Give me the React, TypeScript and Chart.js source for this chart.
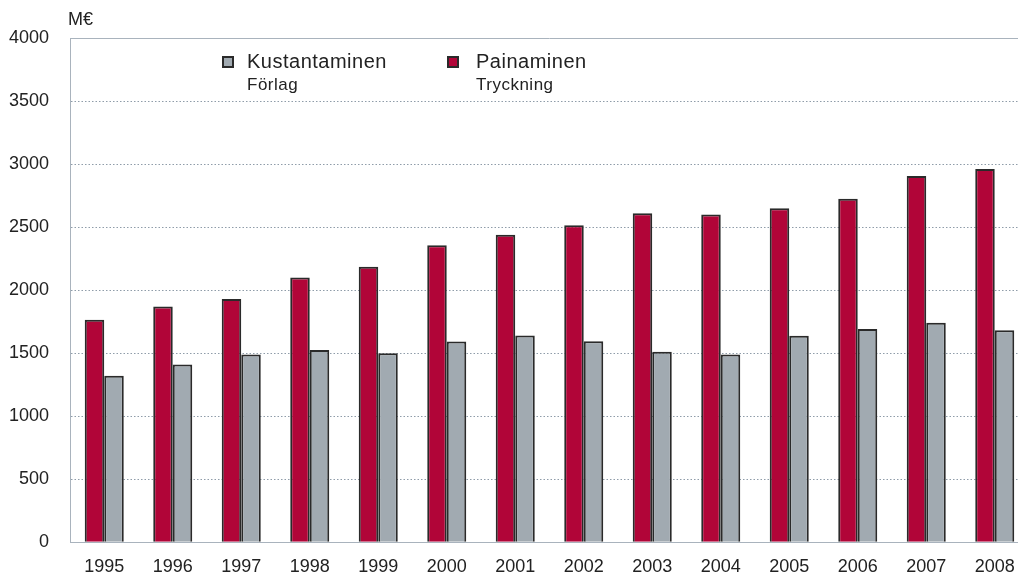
import React, { useEffect, useRef } from "react";
import { Chart, registerables } from "chart.js";

Chart.register(...registerables);

const years = ["1995", "1996", "1997", "1998", "1999", "2000", "2001", "2002", "2003", "2004", "2005", "2006", "2007", "2008"];
const painaminen = [1765, 1870, 1930, 2100, 2185, 2355, 2440, 2515, 2610, 2600, 2650, 2725, 2905, 2960];
const kustantaminen = [1320, 1410, 1490, 1525, 1500, 1593, 1640, 1595, 1510, 1490, 1637, 1692, 1740, 1682];
const yMin = 0;
const yMax = 4000;
const yStep = 500;
const unitLabel = "M€";
const legendMain = ["Kustantaminen", "Painaminen"];
const legendSub = ["Förlag", "Tryckning"];

const RED = "#b10538";
const GRAY = "#a1aab1";
const EDGE = "#2a2a2a";
const AXIS = "#a9b3bd";
const GRID = "#8f9ca9";
const TEXT = "#222222";
const FONT = "'Liberation Sans', Arial, sans-serif";

const overlay = {
  id: "overlay",
  beforeDatasetsDraw(chart: any) {
    const { ctx, chartArea } = chart;
    ctx.save();
    ctx.strokeStyle = AXIS;
    ctx.lineWidth = 1;
    ctx.beginPath();
    ctx.moveTo(chartArea.left, Math.round(chartArea.top) + 0.5);
    ctx.lineTo(chartArea.right, Math.round(chartArea.top) + 0.5);
    ctx.stroke();
    ctx.restore();
  },
  afterDraw(chart: any) {
    const { ctx } = chart;
    ctx.save();
    ctx.fillStyle = TEXT;
    ctx.textBaseline = "alphabetic";
    ctx.textAlign = "left";
    ctx.font = `18px ${FONT}`;
    ctx.fillText(unitLabel, 68, 25);

    const boxX = [222, 447];
    const textX = [247, 476];
    const colors = [GRAY, RED];
    for (let i = 0; i < 2; i++) {
      ctx.fillStyle = colors[i];
      ctx.fillRect(boxX[i], 56, 12, 12);
      ctx.strokeStyle = EDGE;
      ctx.lineWidth = 2;
      ctx.strokeRect(boxX[i] + 1, 57, 10, 10);
      ctx.fillStyle = TEXT;
      try {
        (ctx as any).letterSpacing = "0.5px";
      } catch (e) {}
      ctx.font = `20px ${FONT}`;
      ctx.fillText(legendMain[i], textX[i], 68);
      ctx.font = `17px ${FONT}`;
      ctx.fillText(legendSub[i], textX[i], 90);
      try {
        (ctx as any).letterSpacing = "0px";
      } catch (e) {}
    }
    ctx.restore();
  },
};

export default function App() {
  const ref = useRef<HTMLCanvasElement | null>(null);

  useEffect(() => {
    if (!ref.current) return;
    const chart = new Chart(ref.current, {
      type: "bar",
      data: {
        labels: years,
        datasets: [
          {
            label: legendMain[1],
            data: painaminen,
            backgroundColor: RED,
            borderColor: EDGE,
            borderWidth: 2,
            barPercentage: 1,
            categoryPercentage: 0.57,
          },
          {
            label: legendMain[0],
            data: kustantaminen,
            backgroundColor: GRAY,
            borderColor: EDGE,
            borderWidth: 2,
            barPercentage: 1,
            categoryPercentage: 0.57,
          },
        ],
      },
      options: {
        responsive: false,
        animation: false,
        layout: { padding: { top: 38, right: 0, left: 0, bottom: 0 } },
        plugins: {
          legend: { display: false },
          tooltip: { enabled: false },
        },
        scales: {
          x: {
            grid: { display: false, drawTicks: false },
            border: { display: true, color: AXIS, width: 1 },
            ticks: {
              color: TEXT,
              font: { family: FONT, size: 18 },
              padding: 14,
              maxRotation: 0,
              autoSkip: false,
            },
            afterFit: (scale: any) => {
              scale.height = 31;
            },
          },
          y: {
            min: yMin,
            max: yMax,
            grid: {
              drawTicks: false,
              lineWidth: 1,
              color: (c: any) =>
                c.tick && (c.tick.value === yMin || c.tick.value === yMax) ? "rgba(0,0,0,0)" : GRID,
            },
            border: { display: true, color: AXIS, width: 1, dash: [1.5, 2] },
            ticks: {
              stepSize: yStep,
              color: TEXT,
              font: { family: FONT, size: 18 },
              padding: 21,
              callback: (v: any) => String(v),
            },
            afterFit: (scale: any) => {
              scale.width = 70;
            },
          },
        },
      },
      plugins: [overlay],
    });
    return () => chart.destroy();
  }, []);

  return (
    <div
      style={{
        position: "fixed",
        left: 0,
        top: 0,
        width: 1018,
        height: 574,
        overflow: "hidden",
        background: "#ffffff",
      }}
    >
      <canvas ref={ref} width={1029} height={574} style={{ display: "block" }} />
    </div>
  );
}
